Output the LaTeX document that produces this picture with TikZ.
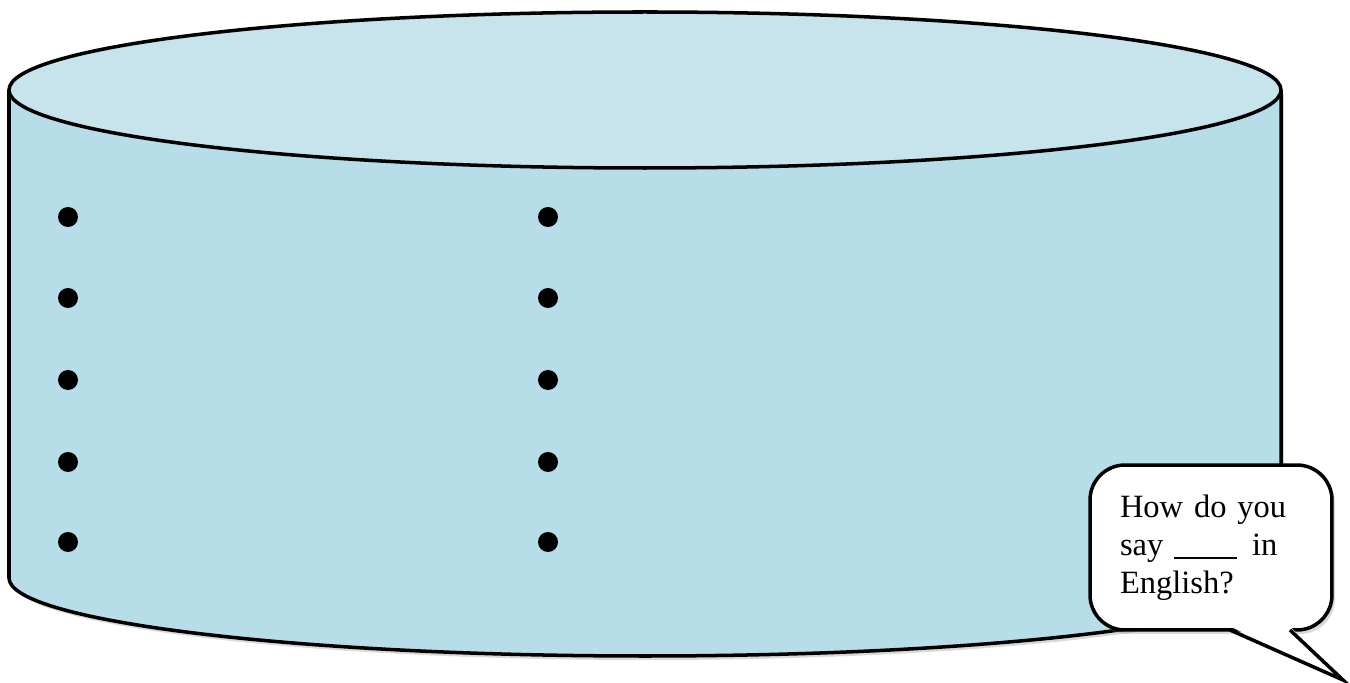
\documentclass[tikz,border=0pt]{standalone}
\usepackage{fontspec}
\setmainfont{Liberation Serif}
\usetikzlibrary{shadows}
\definecolor{LidBlue}{RGB}{199,228,237}
\definecolor{SideBlue}{RGB}{183,221,232}

\begin{document}
\begin{tikzpicture}[x=0.02cm,y=0.02cm,
  rim/.style={line width=2pt,line join=round},
  soft/.style={drop shadow={opacity=0.3,shadow xshift=0.06cm,shadow yshift=-0.08cm}},
  dot/.style={circle,fill=black,inner sep=0pt,minimum size=0.4cm},
  bubble/.style={draw,rim,fill=white,rounded corners=0.7cm,minimum width=4.84cm,
    minimum height=3.3cm,align=left,text width=3.64cm,inner sep=0pt,
    font=\fontsize{18.5}{21.5}\selectfont}]
  \useasboundingbox (0,0) rectangle (1350,683);
  % side of the tub
  \filldraw[rim,fill=SideBlue,soft] (9,593) -- (9,105)
    arc[start angle=180,end angle=360,x radius=636,y radius=78] -- (1281,593) -- cycle;
  % lid
  \filldraw[rim,fill=LidBlue] (645,593) ellipse[x radius=636,y radius=78];
  % two columns of bullets
  \foreach \row [count=\i] in {466,385,303,221,141} {
    \node[dot] (l\i) at (68,\row) {};
    \node[dot] (r\i) at (548,\row) {};
  }
  % speech bubble
  \node[bubble,soft] (ask) at (1211,135.5)
    {How do you\\ say \rule[-2pt]{1.26cm}{1pt}\hspace{0.3cm}in\\ English?};
  \coordinate (tl) at (1230,53);
  \coordinate (tr) at (1290,53);
  \coordinate (tip) at (1343,3);
  \fill[white] ([yshift=2pt]tl) -- (tip) -- ([yshift=2pt]tr) -- cycle;
  \draw[rim,line join=miter] (tl) -- (tip) -- (tr);
\end{tikzpicture}
\end{document}
